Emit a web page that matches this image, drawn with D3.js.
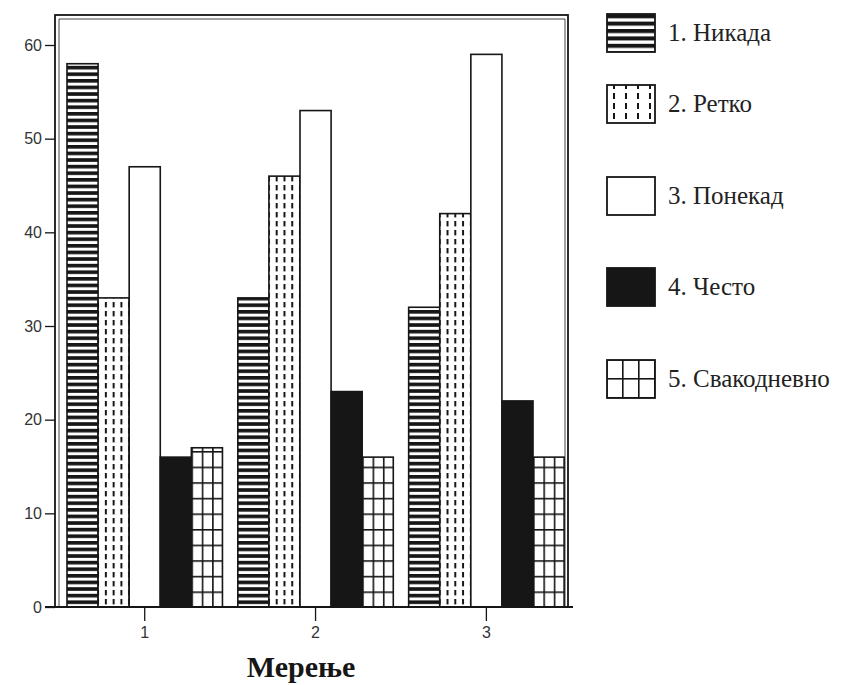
<!DOCTYPE html>
<html>
<head>
<meta charset="utf-8">
<script src="https://cdn.jsdelivr.net/npm/d3@7"></script>
<style>
  body { margin: 0; background: #fff; }
</style>
</head>
<body>
<script>
const width = 852
const height = 685
const ink = '#161616'

// Мерења (групе)
const groups = ['1', '2', '3']
// Одговори
const series = ['1. Никада', '2. Ретко', '3. Понекад', '4. Често', '5. Свакодневно']
const nikada = [58, 33, 32]
const retko = [33, 46, 42]
const ponekad = [47, 53, 59]
const cesto = [16, 23, 22]
const svakodnevno = [17, 16, 16]
const yTicks = [0, 10, 20, 30, 40, 50, 60]
const xTitle = 'Мерење'

const values = [nikada, retko, ponekad, cesto, svakodnevno]
const kinds = ['stripes', 'dashes', 'white', 'solid', 'grid']

// plot area
const frame = { left: 55, top: 15, right: 568, bottom: 607 }
const inner = { left: 59, top: 19, right: 565 }

const y = d3.scaleLinear().domain([0, 60]).range([607, 45])
const x0 = d3.scaleBand()
  .domain(groups)
  .range([inner.left, inner.right])
  .paddingInner(0.09)
  .paddingOuter(0.026)
  .align(0.9)
const x1 = d3.scaleBand().domain(d3.range(series.length)).range([0, x0.bandwidth()])

const svg = d3.select('body').append('svg').attr('width', width).attr('height', height)
const defs = svg.append('defs')

function makePattern(id, kind, px, py, cw, ch) {
  const p = defs.append('pattern')
    .attr('id', id)
    .attr('patternUnits', 'userSpaceOnUse')
    .attr('x', px).attr('y', py)
    .attr('width', cw).attr('height', ch)
  p.append('rect').attr('width', cw).attr('height', ch).attr('fill', kind === 'solid' ? ink : '#fff')
  if (kind === 'stripes') {
    p.append('rect').attr('y', 0).attr('width', cw).attr('height', ch * 0.55).attr('fill', ink)
  }
  if (kind === 'dashes') {
    p.append('rect').attr('x', -1).attr('y', 1).attr('width', 2).attr('height', ch * 0.6).attr('fill', ink)
    p.append('rect').attr('x', cw - 1).attr('y', 1).attr('width', 2).attr('height', ch * 0.6).attr('fill', ink)
  }
  if (kind === 'grid') {
    p.append('rect').attr('x', 0).attr('y', 0).attr('width', 1.6).attr('height', ch).attr('fill', ink)
    p.append('rect').attr('x', 0).attr('y', 0).attr('width', cw).attr('height', 1.6).attr('fill', ink)
  }
  return `url(#${id})`
}

// frame
svg.append('rect')
  .attr('x', frame.left).attr('y', frame.top)
  .attr('width', frame.right - frame.left).attr('height', frame.bottom - frame.top)
  .attr('fill', 'none').attr('stroke', ink).attr('stroke-width', 1.8)
svg.append('path')
  .attr('d', `M${inner.left},${frame.bottom}V${inner.top}H${inner.right}V${frame.bottom}`)
  .attr('fill', 'none').attr('stroke', '#444').attr('stroke-width', 1)

// bars
const bw = x1.bandwidth()
const barData = []
groups.forEach((g, gi) => {
  values.forEach((vals, si) => {
    barData.push({ g, si, v: vals[gi], x: x0(g) + x1(si) })
  })
})

svg.append('g')
  .selectAll('rect')
  .data(barData)
  .join('rect')
  .attr('x', d => d.x)
  .attr('y', d => y(d.v))
  .attr('width', bw)
  .attr('height', d => y(0) - y(d.v))
  .attr('fill', d => {
    const kind = kinds[d.si]
    const id = `p-${d.g}-${d.si}`
    if (kind === 'stripes') return makePattern(id, kind, d.x, y(0), 10, 6.6)
    if (kind === 'dashes') return makePattern(id, kind, d.x, y(0), bw / 4, 9)
    if (kind === 'grid') return makePattern(id, kind, d.x, y(0), bw / 3, 15.6)
    if (kind === 'solid') return ink
    return '#fff'
  })
  .attr('stroke', ink)
  .attr('stroke-width', 1.6)

// y axis
const yAxis = svg.append('g')
  .attr('transform', `translate(${frame.left},0)`)
  .call(d3.axisLeft(y).tickValues(yTicks).tickSize(10).tickPadding(3))
yAxis.select('.domain').remove()
yAxis.selectAll('line').attr('stroke', ink).attr('stroke-width', 1.3)
yAxis.selectAll('text')
  .attr('font-family', 'Liberation Sans, Arial, sans-serif')
  .attr('font-size', 16)
  .attr('fill', '#333')

// x axis
const xAxis = svg.append('g')
  .attr('transform', `translate(0,${frame.bottom})`)
  .call(d3.axisBottom(x0).tickSize(14).tickPadding(6))
xAxis.select('.domain')
  .attr('d', `M${frame.left - 10},0H${frame.right + 5}`)
  .attr('stroke', ink).attr('stroke-width', 1.8)
xAxis.selectAll('line').attr('stroke', ink).attr('stroke-width', 1.3)
xAxis.selectAll('text')
  .attr('font-family', 'Liberation Sans, Arial, sans-serif')
  .attr('font-size', 16)
  .attr('fill', '#333')

svg.append('text')
  .attr('x', 301)
  .attr('y', 677)
  .attr('text-anchor', 'middle')
  .attr('font-family', 'Liberation Serif, Times New Roman, serif')
  .attr('font-weight', 'bold')
  .attr('font-size', 30)
  .attr('fill', ink)
  .text(xTitle)

// legend
const legendTops = [14, 85, 177, 268, 360]
const sw = 48
const sh = 38
const legend = svg.append('g')
  .selectAll('g')
  .data(series)
  .join('g')
  .attr('transform', (d, i) => `translate(607,${legendTops[i]})`)

legend.append('rect')
  .attr('width', sw)
  .attr('height', sh)
  .attr('fill', (d, i) => {
    const kind = kinds[i]
    const id = `lg-${i}`
    const top = legendTops[i]
    if (kind === 'stripes') return makePattern(id, kind, 607, top + 1, 10, 7.4)
    if (kind === 'dashes') return makePattern(id, kind, 607, top + 2, sw / 4, 10)
    if (kind === 'grid') return makePattern(id, kind, 607, top, sw / 3, sh / 2)
    if (kind === 'solid') return ink
    return '#fff'
  })
  .attr('stroke', ink)
  .attr('stroke-width', 1.8)

legend.append('text')
  .attr('x', 61)
  .attr('y', sh / 2 + 8)
  .attr('font-family', 'Liberation Serif, Times New Roman, serif')
  .attr('font-size', 25)
  .attr('fill', '#222')
  .text(d => d)
</script>
</body>
</html>
